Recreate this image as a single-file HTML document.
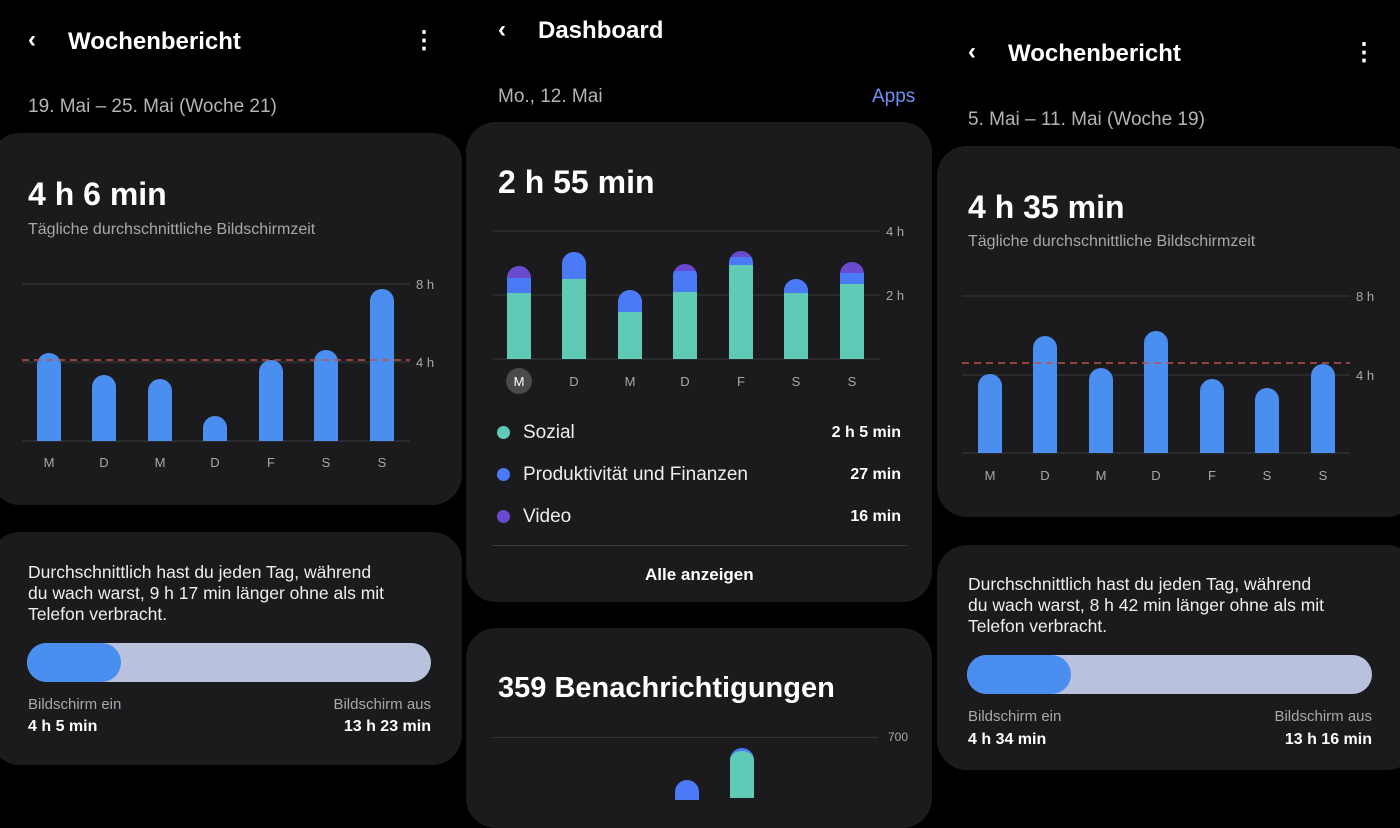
<!DOCTYPE html>
<html><head><meta charset="utf-8"><style>
*{margin:0;padding:0;box-sizing:border-box}
body{width:1400px;height:786px;background:#000;overflow:hidden;position:relative;font-family:"Liberation Sans",sans-serif;color:#fff}
.a{position:absolute;white-space:nowrap}
.card{position:absolute;background:#1b1b1d;border-radius:30px}
.t{font-size:24px;font-weight:bold}
.g{color:#b5b5b8}
.big{font-size:32px;font-weight:bold}
.sm{font-size:15px;color:#a8a8ab}
.p{font-size:17.5px;color:#eee;line-height:21px}
</style></head><body>
<!-- Panel 1 -->
<div class="a t" style="left:28px;top:26px">‹</div>
<div class="a t" style="left:68px;top:28px">Wochenbericht</div>
<div class="a t" style="left:412px;top:26px">⋮</div>
<div class="a g" style="left:28px;top:96px;font-size:19px">19. Mai – 25. Mai (Woche 21)</div>
<div class="card" style="left:-10px;top:133px;width:472px;height:372px"></div>
<div class="a big" style="left:28px;top:176px">4 h 6 min</div>
<div class="a sm" style="left:28px;top:221px;font-size:16px">Tägliche durchschnittliche Bildschirmzeit</div>
<div class="card" style="left:-10px;top:532px;width:472px;height:233px"></div>
<div class="a p" style="left:28px;top:562px">Durchschnittlich hast du jeden Tag, während<br>du wach warst, 9 h 17 min länger ohne als mit<br>Telefon verbracht.</div>
<div class="a" style="left:27px;top:643px;width:404px;height:39px;background:#b8c2dc;border-radius:20px"></div>
<div class="a" style="left:27px;top:643px;width:94px;height:39px;background:#4a8ef0;border-radius:20px"></div>
<div class="a sm" style="left:28px;top:696px">Bildschirm ein</div>
<div class="a" style="left:28px;top:718px;font-size:16px;font-weight:bold">4 h 5 min</div>
<div class="a sm" style="right:969px;top:696px">Bildschirm aus</div>
<div class="a" style="right:969px;top:718px;font-size:16px;font-weight:bold">13 h 23 min</div>

<!-- Panel 2 -->
<div class="a t" style="left:498px;top:16px">‹</div>
<div class="a t" style="left:538px;top:17px">Dashboard</div>
<div class="a g" style="left:498px;top:86px;font-size:19px">Mo., 12. Mai</div>
<div class="a" style="left:872px;top:86px;font-size:19px;color:#6f8ff5">Apps</div>
<div class="card" style="left:466px;top:122px;width:466px;height:480px"></div>
<div class="a big" style="left:498px;top:164px">2 h 55 min</div>
<div class="a" style="left:497px;top:426px;width:13px;height:13px;border-radius:50%;background:#5fcab5"></div>
<div class="a p" style="left:523px;top:422px;font-size:19px">Sozial</div>
<div class="a" style="right:499px;top:424px;font-size:16px;font-weight:bold">2 h 5 min</div>
<div class="a" style="left:497px;top:468px;width:13px;height:13px;border-radius:50%;background:#4a7af5"></div>
<div class="a p" style="left:523px;top:464px;font-size:19px">Produktivität und Finanzen</div>
<div class="a" style="right:499px;top:466px;font-size:16px;font-weight:bold">27 min</div>
<div class="a" style="left:497px;top:510px;width:13px;height:13px;border-radius:50%;background:#6a4bd0"></div>
<div class="a p" style="left:523px;top:506px;font-size:19px">Video</div>
<div class="a" style="right:499px;top:508px;font-size:16px;font-weight:bold">16 min</div>
<div class="a" style="left:492px;top:545px;width:415px;height:1px;background:#3a3a3d"></div>
<div class="a" style="left:645px;top:565px;font-size:17px;font-weight:bold">Alle anzeigen</div>
<div class="card" style="left:466px;top:628px;width:466px;height:200px"></div>
<div class="a big" style="left:498px;top:672px;font-size:29px">359 Benachrichtigungen</div>
<div class="a" style="left:492px;top:737px;width:386px;height:1px;background:#333"></div>
<div class="a sm" style="left:888px;top:730px;font-size:12px">700</div>
<div class="a" style="left:730px;top:748px;width:24px;height:50px;background:#5fcab5;border-radius:12px 12px 0 0;border-top:3px solid #4a7af5"></div>
<div class="a" style="left:675px;top:780px;width:24px;height:20px;background:#4a7af5;border-radius:12px 12px 0 0"></div>

<!-- Panel 3 -->
<div class="a t" style="left:968px;top:38px">‹</div>
<div class="a t" style="left:1008px;top:40px">Wochenbericht</div>
<div class="a t" style="left:1352px;top:38px">⋮</div>
<div class="a g" style="left:968px;top:109px;font-size:19px">5. Mai – 11. Mai (Woche 19)</div>
<div class="card" style="left:937px;top:146px;width:480px;height:371px"></div>
<div class="a big" style="left:968px;top:189px">4 h 35 min</div>
<div class="a sm" style="left:968px;top:233px;font-size:16px">Tägliche durchschnittliche Bildschirmzeit</div>
<div class="card" style="left:937px;top:545px;width:480px;height:225px"></div>
<div class="a p" style="left:968px;top:574px">Durchschnittlich hast du jeden Tag, während<br>du wach warst, 8 h 42 min länger ohne als mit<br>Telefon verbracht.</div>
<div class="a" style="left:967px;top:655px;width:405px;height:39px;background:#b8c2dc;border-radius:20px"></div>
<div class="a" style="left:967px;top:655px;width:104px;height:39px;background:#4a8ef0;border-radius:20px"></div>
<div class="a sm" style="left:968px;top:708px">Bildschirm ein</div>
<div class="a" style="left:968px;top:731px;font-size:16px;font-weight:bold">4 h 34 min</div>
<div class="a sm" style="right:28px;top:708px">Bildschirm aus</div>
<div class="a" style="right:28px;top:731px;font-size:16px;font-weight:bold">13 h 16 min</div>

<svg class="a" style="left:0;top:0" width="1400" height="786" font-family="Liberation Sans,sans-serif">
<g stroke="#3a3a3d" stroke-width="1">
<line x1="22" y1="284" x2="410" y2="284"/><line x1="22" y1="362" x2="410" y2="362"/><line x1="22" y1="441" x2="410" y2="441"/>
<line x1="492" y1="231" x2="880" y2="231"/><line x1="492" y1="295" x2="880" y2="295"/><line x1="492" y1="359" x2="880" y2="359"/>
<line x1="962" y1="296" x2="1350" y2="296"/><line x1="962" y1="375" x2="1350" y2="375"/><line x1="962" y1="453" x2="1350" y2="453"/>
</g>
<g fill="#a8a8ab" font-size="13">
<text x="416" y="289">8 h</text><text x="416" y="367">4 h</text>
<text x="886" y="236">4 h</text><text x="886" y="300">2 h</text>
<text x="1356" y="301">8 h</text><text x="1356" y="380">4 h</text>
</g>
<g fill="#4a8ef0">
<path d="M37 441V365a12 12 0 0 1 24 0V441Z"/>
<path d="M92 441V387a12 12 0 0 1 24 0V441Z"/>
<path d="M148 441V391a12 12 0 0 1 24 0V441Z"/>
<path d="M203 441V428a12 12 0 0 1 24 0V441Z"/>
<path d="M259 441V372a12 12 0 0 1 24 0V441Z"/>
<path d="M314 441V362a12 12 0 0 1 24 0V441Z"/>
<path d="M370 441V301a12 12 0 0 1 24 0V441Z"/>
<path d="M978 453V386a12 12 0 0 1 24 0V453Z"/>
<path d="M1033 453V348a12 12 0 0 1 24 0V453Z"/>
<path d="M1089 453V380a12 12 0 0 1 24 0V453Z"/>
<path d="M1144 453V343a12 12 0 0 1 24 0V453Z"/>
<path d="M1200 453V391a12 12 0 0 1 24 0V453Z"/>
<path d="M1255 453V400a12 12 0 0 1 24 0V453Z"/>
<path d="M1311 453V376a12 12 0 0 1 24 0V453Z"/>
</g>
<line x1="22" y1="360" x2="410" y2="360" stroke="#c0504a" stroke-width="1.5" stroke-dasharray="7 5"/>
<line x1="962" y1="363" x2="1350" y2="363" stroke="#c0504a" stroke-width="1.5" stroke-dasharray="7 5"/>
<defs>
<clipPath id="c">
<path d="M507 359V278a12 12 0 0 1 24 0V359Z"/><path d="M562 359V264a12 12 0 0 1 24 0V359Z"/>
<path d="M618 359V302a12 12 0 0 1 24 0V359Z"/><path d="M673 359V276a12 12 0 0 1 24 0V359Z"/>
<path d="M729 359V263a12 12 0 0 1 24 0V359Z"/><path d="M784 359V291a12 12 0 0 1 24 0V359Z"/>
<path d="M840 359V274a12 12 0 0 1 24 0V359Z"/>
</clipPath></defs>
<g clip-path="url(#c)">
<rect x="500" y="240" width="380" height="120" fill="#6a4bd0"/>
<rect x="507" y="278" width="24" height="15" fill="#4a7af5"/><rect x="562" y="240" width="24" height="39" fill="#4a7af5"/>
<rect x="618" y="240" width="24" height="72" fill="#4a7af5"/><rect x="673" y="271" width="24" height="21" fill="#4a7af5"/>
<rect x="729" y="257" width="24" height="8" fill="#4a7af5"/><rect x="784" y="240" width="24" height="53" fill="#4a7af5"/>
<rect x="840" y="273" width="24" height="11" fill="#4a7af5"/>
<g fill="#5fcab5">
<rect x="507" y="293" width="24" height="66"/><rect x="562" y="279" width="24" height="80"/>
<rect x="618" y="312" width="24" height="47"/><rect x="673" y="292" width="24" height="67"/>
<rect x="729" y="265" width="24" height="94"/><rect x="784" y="293" width="24" height="66"/>
<rect x="840" y="284" width="24" height="75"/></g>
</g>
<circle cx="519" cy="381" r="13" fill="#4a4a4d"/>
<g fill="#a8a8ab" font-size="13" text-anchor="middle">
<text x="49" y="467">M</text><text x="104" y="467">D</text><text x="160" y="467">M</text><text x="215" y="467">D</text><text x="271" y="467">F</text><text x="326" y="467">S</text><text x="382" y="467">S</text>
<text x="519" y="386" fill="#fff">M</text><text x="574" y="386">D</text><text x="630" y="386">M</text><text x="685" y="386">D</text><text x="741" y="386">F</text><text x="796" y="386">S</text><text x="852" y="386">S</text>
<text x="990" y="480">M</text><text x="1045" y="480">D</text><text x="1101" y="480">M</text><text x="1156" y="480">D</text><text x="1212" y="480">F</text><text x="1267" y="480">S</text><text x="1323" y="480">S</text>
</g>
</svg>
</body></html>
